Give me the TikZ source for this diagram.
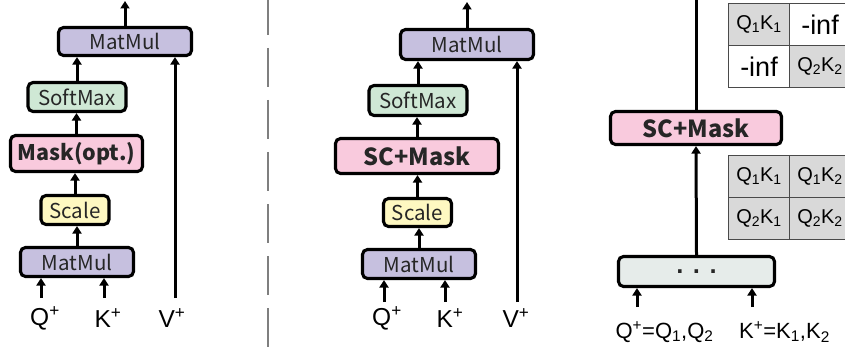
\documentclass[tikz,border=0pt]{standalone}
\usepackage{fontspec}
\setmainfont{Liberation Sans}
\newfontfamily\boxfont{Noto Sans CJK SC}
\newfontfamily\dotfont{DejaVu Sans}
\usetikzlibrary{arrows.meta}
\definecolor{mmfill}{HTML}{C6C0DF}
\definecolor{smfill}{HTML}{CFE8D5}
\definecolor{mkfill}{HTML}{F9CADD}
\definecolor{scfill}{HTML}{FEF8C1}
\definecolor{dtfill}{HTML}{E6ECEA}
\definecolor{cellgray}{HTML}{D9D9D9}
\definecolor{dashgray}{HTML}{7F7F7F}
\definecolor{tabline}{HTML}{4A4A4A}
\tikzset{
  blk/.style={draw=black, line width=3.1pt, rounded corners=5pt, inner sep=0pt, text=black!85},
  mmbox/.style={blk, fill=mmfill, font=\boxfont\fontsize{20.5}{22}\selectfont},
  smbox/.style={blk, fill=smfill, font=\boxfont\fontsize{20.5}{22}\selectfont},
  scbox/.style={blk, fill=scfill, font=\boxfont\fontsize{20.5}{22}\selectfont},
  mkbox/.style={blk, fill=mkfill, font=\boxfont\bfseries\fontsize{21.5}{24}\selectfont},
  mkboxb/.style={blk, fill=mkfill, font=\boxfont\bfseries\fontsize{23.5}{26}\selectfont},
  dtbox/.style={blk, fill=dtfill},
  arr/.style={line width=3pt, -{Triangle[length=7.5pt,width=9pt]}},
  lbl/.style={font=\fontsize{24.5}{26}\selectfont, inner sep=0pt},
  cell/.style={draw=tabline, line width=1pt, minimum width=61pt, minimum height=42pt, inner sep=0pt, anchor=north west, font=\fontsize{20}{22}\selectfont},
  infcell/.style={cell, font=\fontsize{27}{29}\selectfont},
}
\begin{document}
\begin{tikzpicture}[x=1pt,y=-1pt]
\useasboundingbox (0,0) rectangle (845,358);
% ---------------- left panel ----------------
\node[mmbox, minimum width=133pt, minimum height=28pt] (Lmm2) at (125,41.5) {MatMul};
\node[smbox, minimum width=98pt, minimum height=29pt] (Lsm) at (77,97) {SoftMax};
\node[mkbox, minimum width=132pt, minimum height=36pt] (Lmk) at (76.5,153.5) {Mask(opt.)};
\node[scbox, minimum width=68pt, minimum height=29pt] (Lsc) at (75,210) {Scale};
\node[mmbox, minimum width=113pt, minimum height=29pt] (Lmm1) at (77,262) {MatMul};
\node[lbl] (Lq) at (45,318) {Q\textsuperscript{+}};
\node[lbl] (Lk) at (108,318) {K\textsuperscript{+}};
\node[lbl] (Lv) at (172,318) {V\textsuperscript{+}};
\coordinate (Ltop) at (125,1);
\coordinate (Lqa) at (41,298);
\coordinate (Lka) at (104,298);
\coordinate (Lva) at (175,298);
\draw[arr] (Lmm2.north) -- (Ltop);
\draw[arr] (Lsm.north) -- (Lsm.north |- Lmm2.south);
\draw[arr] (Lmk.north) -- (Lmk.north |- Lsm.south);
\draw[arr] (Lsc.north) -- (Lsc.north |- Lmk.south);
\draw[arr] (Lmm1.north) -- (Lmm1.north |- Lsc.south);
\draw[arr] (Lqa) -- (Lqa |- Lmm1.south);
\draw[arr] (Lka) -- (Lka |- Lmm1.south);
\draw[arr] (Lva) -- (Lva |- Lmm2.south);
% ---------------- divider ----------------
\coordinate (dvA) at (268,0);
\coordinate (dvB) at (268,352);
\draw[dashgray, line width=2pt, dash pattern=on 39pt off 13pt, dash phase=4pt] (dvA) -- (dvB);
% ---------------- middle panel ----------------
\node[mmbox, minimum width=133pt, minimum height=30pt] (Mmm2) at (467,44.5) {MatMul};
\node[smbox, minimum width=98pt, minimum height=30pt] (Msm) at (418,100.5) {SoftMax};
\node[mkboxb, minimum width=163pt, minimum height=35pt] (Mmk) at (417,156) {SC+Mask};
\node[scbox, minimum width=68pt, minimum height=28pt] (Msc) at (417.5,212.5) {Scale};
\node[mmbox, minimum width=113pt, minimum height=29pt] (Mmm1) at (419,264) {MatMul};
\node[lbl] (Mq) at (387,318) {Q\textsuperscript{+}};
\node[lbl] (Mk) at (450,318) {K\textsuperscript{+}};
\node[lbl] (Mv) at (516,318) {V\textsuperscript{+}};
\coordinate (Mtop) at (467,2);
\coordinate (Mqa) at (384,302);
\coordinate (Mka) at (445,302);
\coordinate (Mva) at (517,302);
\draw[arr] (Mmm2.north) -- (Mtop);
\draw[arr] (Msm.north) -- (Msm.north |- Mmm2.south);
\draw[arr] (Mmk.north) -- (Mmk.north |- Msm.south);
\draw[arr] (Msc.north) -- (Msc.north |- Mmk.south);
\draw[arr] (Mmm1.north) -- (Mmm1.north |- Msc.south);
\draw[arr] (Mqa) -- (Mqa |- Mmm1.south);
\draw[arr] (Mka) -- (Mka |- Mmm1.south);
\draw[arr] (Mva) -- (Mva |- Mmm2.south);
% ---------------- right panel ----------------
\node[mkboxb, minimum width=171pt, minimum height=33pt] (Rmk) at (696,128) {SC+Mask};
\node[dtbox, minimum width=156pt, minimum height=30pt] (Rdt) at (696.5,271.5) {\dotfont\bfseries\fontsize{20}{22}\selectfont .\hspace{9pt}.\hspace{9pt}.};
\coordinate (Rtop) at (696,0);
\draw[line width=3pt] (Rmk.north) -- (Rtop);
\draw[arr] (Rdt.north) -- (Rmk.south);
\coordinate (Rqa) at (637,307);
\coordinate (Rka) at (752,307);
\draw[arr] (Rqa) -- (Rqa |- Rdt.south);
\draw[arr] (Rka) -- (Rka |- Rdt.south);
\node[lbl, font=\fontsize{22}{24}\selectfont] (Rq) at (664.5,332) {Q\textsuperscript{+}=Q\textsubscript{1},Q\textsubscript{2}};
\node[lbl, font=\fontsize{22}{24}\selectfont] (Rk) at (784.5,332) {K\textsuperscript{+}=K\textsubscript{1},K\textsubscript{2}};
% upper table (masked)
\node[cell, fill=cellgray] (u11) at (728,3) {Q\textsubscript{1}K\textsubscript{1}};
\node[infcell, fill=white] (u12) at (789,3) {-inf};
\node[infcell, fill=white] (u21) at (728,45) {-inf};
\node[cell, fill=cellgray] (u22) at (789,45) {Q\textsubscript{2}K\textsubscript{2}};
% lower table (scores)
\node[cell, fill=cellgray] (l11) at (728,155) {Q\textsubscript{1}K\textsubscript{1}};
\node[cell, fill=cellgray] (l12) at (789,155) {Q\textsubscript{1}K\textsubscript{2}};
\node[cell, fill=cellgray] (l21) at (728,197) {Q\textsubscript{2}K\textsubscript{1}};
\node[cell, fill=cellgray] (l22) at (789,197) {Q\textsubscript{2}K\textsubscript{2}};
\end{tikzpicture}
\end{document}
